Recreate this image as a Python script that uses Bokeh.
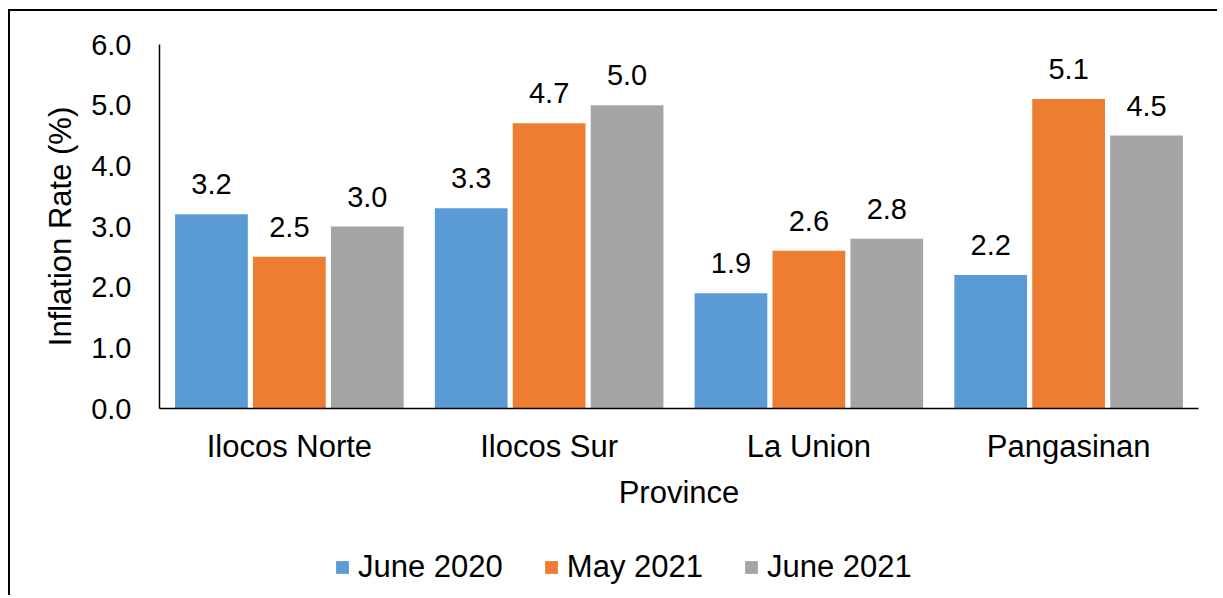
from bokeh.plotting import figure
from bokeh.layouts import column
from bokeh.models import ColumnDataSource, FactorRange, LabelSet, Legend, LegendItem, CustomJSTickFormatter
from bokeh.core.properties import value
from bokeh.transform import dodge
from bokeh.embed import file_html
from bokeh.resources import INLINE

provinces = ["Ilocos Norte", "Ilocos Sur", "La Union", "Pangasinan"]
june_2020 = [3.2, 3.3, 1.9, 2.2]
may_2021 = [2.5, 4.7, 2.6, 5.1]
june_2021 = [3.0, 5.0, 2.8, 4.5]
series_names = ["June 2020", "May 2021", "June 2021"]
colors = ["#5B9BD5", "#ED7D31", "#A5A5A5"]
y_ticks = [0, 1, 2, 3, 4, 5, 6]

FONT = "Liberation Sans"

src = ColumnDataSource(dict(
    prov=provinces,
    s0=june_2020, s1=may_2021, s2=june_2021,
    l0=[f"{v:.1f}" for v in june_2020],
    l1=[f"{v:.1f}" for v in may_2021],
    l2=[f"{v:.1f}" for v in june_2021],
))

p = figure(
    x_range=FactorRange(*provinces, range_padding=0),
    y_range=(0, 6),
    width=1207, height=520,
    min_border_left=149, min_border_right=19,
    min_border_top=33, min_border_bottom=123,
    output_backend="svg", toolbar_location=None,
)
p.outline_line_color = None
p.xgrid.grid_line_color = None
p.ygrid.grid_line_color = None

offsets = [-0.3, 0.0, 0.3]
for i, (name, col, off) in enumerate(zip(series_names, colors, offsets)):
    p.vbar(x=dodge("prov", off, range=p.x_range), top=f"s{i}", width=0.28,
           source=src, fill_color=col, line_color=None)
    lbl = LabelSet(x=dodge("prov", off, range=p.x_range), y=f"s{i}", text=f"l{i}",
                   source=src, text_align="center", text_baseline="alphabetic",
                   y_offset=20, text_font=value(FONT), text_font_size=value("29px"),
                   text_color=value("black"))
    p.add_layout(lbl)

p.yaxis.ticker = y_ticks
p.yaxis.formatter = CustomJSTickFormatter(code="return tick.toFixed(1);")
for ax in (p.xaxis[0], p.yaxis[0]):
    ax.axis_line_color = "black"
    ax.axis_line_width = 1.5
    ax.major_tick_line_color = None
    ax.minor_tick_line_color = None
    ax.major_label_text_font = FONT
    ax.axis_label_text_font = FONT
    ax.axis_label_text_font_style = "normal"
    ax.axis_label_text_color = "black"
    ax.major_label_text_color = "black"
    ax.axis_label_text_font_size = "31px"

p.yaxis.major_label_text_font_size = "29px"
p.yaxis.major_label_standoff = 22
p.yaxis.axis_label = "Inflation Rate (%)"
p.yaxis.axis_label_standoff = 10

p.xaxis.major_label_text_font_size = "31px"
p.xaxis.major_label_standoff = 14
p.xaxis.axis_label = "Province"
p.xaxis.axis_label_standoff = 8

# legend strip
p2 = figure(
    x_range=p.x_range, y_range=(100, 101),
    width=1207, height=64,
    min_border_left=0, min_border_right=0, min_border_top=0, min_border_bottom=0,
    x_axis_location=None, y_axis_location=None,
    output_backend="svg", toolbar_location=None,
)
p2.outline_line_color = None
p2.xgrid.grid_line_color = None
p2.ygrid.grid_line_color = None
items = []
for i, (name, col, off) in enumerate(zip(series_names, colors, offsets)):
    r = p2.vbar(x=dodge("prov", off, range=p.x_range), top=f"s{i}", width=0.28,
                source=src, fill_color=col, line_color=None)
    items.append(LegendItem(label=name, renderers=[r]))

legend = Legend(items=items, orientation="horizontal", location=(175, 10),
                label_text_font=FONT, label_text_font_size="31px",
                label_text_color="black",
                glyph_width=16, glyph_height=16, label_standoff=8, spacing=40,
                padding=0, margin=0, border_line_color=None,
                background_fill_alpha=0)
p2.add_layout(legend, "center")

layout = column(p, p2, spacing=0,
                styles={"border-left": "2px solid black", "border-top": "2px solid black",
                        "margin-left": "8px", "margin-top": "9px"})

open("out.html", "w").write(file_html(layout, INLINE))
